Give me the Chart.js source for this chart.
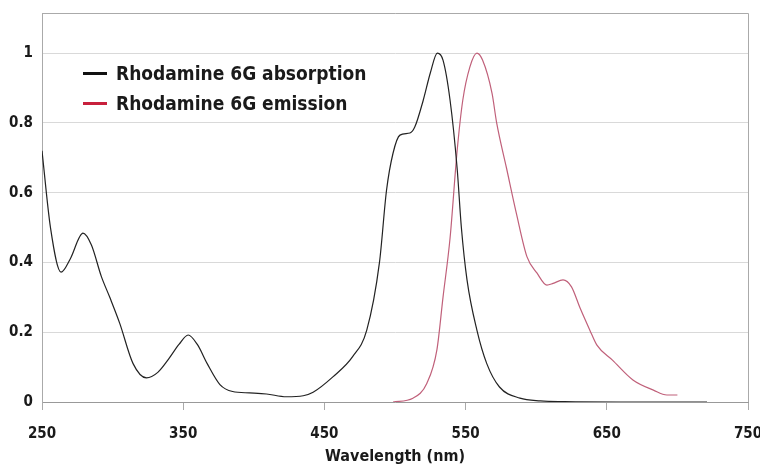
<!DOCTYPE html>
<html>
<head>
<meta charset="utf-8">
<script src="https://cdn.jsdelivr.net/npm/chart.js@4.4.0/dist/chart.umd.min.js"></script>
<style>
  html, body { margin: 0; padding: 0; background: #fff; }
  #wrap { position: relative; width: 760px; height: 468px; }
  #legend { position: absolute; left: 83px; top: 59px; font-family: "Liberation Sans Narrow", "DejaVu Sans Condensed", Lato, sans-serif; font-weight: bold; font-size: 19px; color: #1a1a1a; }
  .row { height: 30px; line-height: 28px; white-space: nowrap; }
  .swatch { display: inline-block; width: 24px; height: 3px; vertical-align: middle; margin-right: 9px; margin-top: -3px; }
</style>
</head>
<body>
<div id="wrap">
  <canvas id="chart" width="760" height="468"></canvas>
  <div id="legend">
    <div class="row"><span class="swatch" style="background:#111"></span>Rhodamine 6G absorption</div>
    <div class="row"><span class="swatch" style="background:#c8203c"></span>Rhodamine 6G emission</div>
  </div>
</div>
<script>
// Absorption spectrum (wavelength nm, normalized)
const absWl = [250, 256, 263.5, 270, 279, 285, 292, 298, 305, 314.5, 324, 332, 340, 347, 353.5, 360, 367, 376, 385, 397, 409, 423, 435, 442, 456, 470, 480, 489, 494, 498.6, 503.5, 510.6, 514, 520, 525, 530, 534, 539, 544, 547, 551, 558, 565, 574, 588.5, 603, 620, 660, 721];
const absVal = [0.72, 0.5, 0.372, 0.41, 0.484, 0.45, 0.36, 0.30, 0.226, 0.11, 0.069, 0.085, 0.125, 0.165, 0.192, 0.165, 0.11, 0.05, 0.03, 0.026, 0.023, 0.015, 0.018, 0.028, 0.072, 0.13, 0.206, 0.40, 0.607, 0.713, 0.765, 0.771, 0.788, 0.865, 0.943, 1.0, 0.98, 0.865, 0.67, 0.50, 0.35, 0.206, 0.11, 0.043, 0.011, 0.003, 0.001, 0.0, 0.0];

// Emission spectrum
const emWl = [498.6, 512.7, 522.6, 529.7, 534, 539, 544, 548, 553, 558, 562, 568.7, 572, 579, 586, 593.5, 600.5, 607.6, 612, 619, 625, 631, 638, 643, 654, 668.5, 683, 692.6, 700];
const emVal = [0.0, 0.011, 0.054, 0.15, 0.30, 0.47, 0.72, 0.865, 0.96, 1.0, 0.98, 0.885, 0.80, 0.67, 0.54, 0.416, 0.37, 0.335, 0.34, 0.35, 0.33, 0.27, 0.206, 0.163, 0.12, 0.063, 0.034, 0.02, 0.02];

const xTicks = [250, 350, 450, 550, 650, 750];
const yTicks = [0, 0.2, 0.4, 0.6, 0.8, 1];

const fontFamily = '"Liberation Sans Narrow", "DejaVu Sans Condensed", Lato, sans-serif';

// Box border around the plot area (top and right)
const frame = {
  id: "frame",
  afterDraw(chart) {
    const { ctx, chartArea: a } = chart;
    ctx.save();
    ctx.strokeStyle = "#aaaaaa";
    ctx.lineWidth = 1;
    ctx.beginPath();
    ctx.moveTo(a.left, a.top + 0.5);
    ctx.lineTo(a.right + 0.5, a.top + 0.5);
    ctx.lineTo(a.right + 0.5, a.bottom);
    ctx.stroke();
    ctx.restore();
  },
};

const toPts = (xs, ys) => xs.map((x, i) => ({ x, y: ys[i] }));

new Chart(document.getElementById("chart"), {
  type: "line",
  data: {
    datasets: [
      {
        label: "Rhodamine 6G absorption",
        data: toPts(absWl, absVal),
        borderColor: "#222222",
        borderWidth: 1.2,
        pointRadius: 0,
        cubicInterpolationMode: "monotone",
      },
      {
        label: "Rhodamine 6G emission",
        data: toPts(emWl, emVal),
        borderColor: "#c0607a",
        borderWidth: 1.2,
        pointRadius: 0,
        cubicInterpolationMode: "monotone",
      },
    ],
  },
  options: {
    responsive: false,
    animation: false,
    layout: { padding: { left: 0, top: 13, right: 12, bottom: 0 } },
    plugins: { legend: { display: false }, tooltip: { enabled: false } },
    scales: {
      x: {
        type: "linear",
        min: 250,
        max: 750,
        afterBuildTicks: (s) => { s.ticks = xTicks.map((v) => ({ value: v })); },
        afterFit: (s) => { s.height = 66; s.paddingLeft = 0; s.paddingRight = 0; },
        grid: { drawOnChartArea: false, drawTicks: true, tickLength: 8, color: "#aaaaaa" },
        border: { color: "#999999" },
        ticks: { color: "#1a1a1a", padding: 15, maxRotation: 0, font: { family: fontFamily, size: 15, weight: "bold" } },
        title: { display: true, text: "Wavelength (nm)", color: "#1a1a1a", padding: { top: 0, bottom: 2 }, font: { family: fontFamily, size: 16, weight: "bold" } },
      },
      y: {
        type: "linear",
        min: 0,
        max: 1.115,
        afterBuildTicks: (s) => { s.ticks = yTicks.map((v) => ({ value: v })); },
        afterFit: (s) => { s.width = 42; s.paddingTop = 0; s.paddingBottom = 0; },
        grid: { color: "#d9d9d9", drawTicks: false },
        border: { color: "#aaaaaa" },
        ticks: { color: "#1a1a1a", padding: 9, font: { family: fontFamily, size: 15, weight: "bold" }, callback: (v) => String(v) },
      },
    },
  },
  plugins: [frame],
});
</script>
</body>
</html>
